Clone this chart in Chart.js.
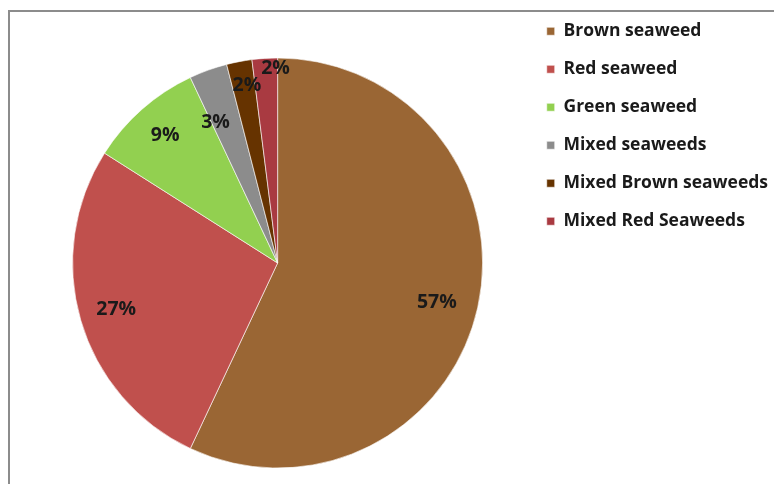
<!DOCTYPE html>
<html>
<head>
<meta charset="utf-8">
<script src="https://cdn.jsdelivr.net/npm/chart.js@4.4.0/dist/chart.umd.min.js"></script>
<style>
  html, body { margin: 0; padding: 0; background: #fff; }
  #wrap { position: relative; width: 774px; height: 484px; overflow: hidden; background: #fff; }
  #frame { position: absolute; left: 8px; top: 10px; width: 800px; height: 520px; border: 2px solid #8c8c8c; }
  #box { position: absolute; left: 0; top: 0; width: 820px; height: 524px; }
</style>
</head>
<body>
<div id="wrap">
  <div id="frame"></div>
  <div id="box"><canvas id="myChart" width="820" height="524"></canvas></div>
</div>
<script>
var categories = ["Brown seaweed", "Red seaweed", "Green seaweed", "Mixed seaweeds",
                  "Mixed Brown seaweeds", "Mixed Red Seaweeds"];
var shares = [57, 27, 9, 3, 2, 2];

var sliceColors = ["#9a6634", "#c0504d", "#92d050", "#8c8c8c", "#663300", "#a93a41"];
// where each percentage sits: fraction of the radius and a small angle nudge (degrees)
var labelRadius = [0.80, 0.82, 0.83, 0.75, 0.88, 0.95];
var labelNudge = [1.3, 0, 0, -4, 1, 3];

var FONT = "'Open Sans', Lato, sans-serif";

var pctLabels = {
  id: "pctLabels",
  afterDatasetsDraw: function(chart) {
    var ctx = chart.ctx;
    var arcs = chart.getDatasetMeta(0).data;
    ctx.save();
    ctx.font = "bold 19.5px " + FONT;
    ctx.fillStyle = "#1a1a1a";
    ctx.textAlign = "center";
    ctx.textBaseline = "middle";
    arcs.forEach(function(arc, i) {
      var p = arc.getProps(["x", "y", "startAngle", "endAngle", "outerRadius"], true);
      var a = (p.startAngle + p.endAngle) / 2 + labelNudge[i] * Math.PI / 180;
      var r = p.outerRadius * labelRadius[i];
      ctx.fillText(shares[i] + "%", p.x + r * Math.cos(a), p.y + r * Math.sin(a));
    });
    ctx.restore();
  }
};

new Chart("myChart", {
  type: "pie",
  data: {
    labels: categories,
    datasets: [{
      data: shares,
      backgroundColor: sliceColors,
      borderColor: "rgba(255,255,255,0.6)",
      borderWidth: 1
    }]
  },
  plugins: [pctLabels],
  options: {
    responsive: false,
    animation: false,
    radius: 205,
    layout: { padding: { left: 29, right: 42, top: 2, bottom: 0 } },
    plugins: {
      tooltip: { enabled: false },
      legend: {
        position: "right",
        align: "start",
        labels: {
          boxWidth: 8,
          boxHeight: 8,
          padding: 20.5,
          color: "#1a1a1a",
          font: { family: FONT, size: 17.5, weight: "bold" }
        }
      }
    }
  }
});
</script>
</body>
</html>
